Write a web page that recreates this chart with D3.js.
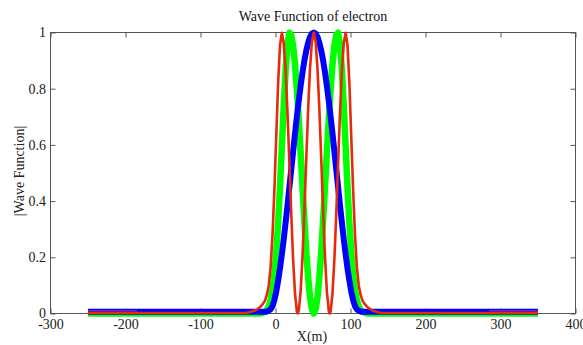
<!DOCTYPE html>
<html>
<head>
<meta charset="utf-8">
<script src="https://cdn.jsdelivr.net/npm/d3@7"></script>
<style>
  body { margin: 0; background: #fff; }
  svg text { font-family: "Liberation Serif", "Times New Roman", serif; }
</style>
</head>
<body>
<div id="chart"></div>
<script>
// Data: |wave function| for three states
const xs = [-250,
  -39, -36.5, -34, -31.5, -29, -26.5, -24, -21.5, -19, -16.5, -14, -11.5, -9, -6.5, -4, -1.5,
  1, 3.5, 6, 8.5, 11, 13.5, 16, 18.5, 21, 23.5, 26, 28.5, 29.7, 31, 33.5, 36, 38.5, 41, 43.5, 46, 48.5,
  51,
  53.5, 56, 58.5, 61, 63.5, 66, 68.5, 71, 72.3, 73.5, 76, 78.5, 81, 83.5, 86, 88.5, 91, 93.5, 96, 98.5,
  101, 103.5, 106, 108.5, 111, 113.5, 116, 118.5, 121, 123.5, 126, 128.5, 131, 133.5, 136, 138.5, 141,
  350];

const blueHalf = [.006, .006, .006, .006, .006, .006, .006, .006, .006, .006, .006, .007, .010, .015, .026, .048,
  .078, .117, .161, .211, .265, .324, .385, .449, .513, .577, .640, .700, .728, .757, .810, .858, .900, .935, .963, .984, .996];
const greenHalf = [0, 0, 0, 0, 0, 0, 0, 0, .001, .003, .006, .013, .025, .047, .083, .138,
  .217, .322, .451, .595, .740, .867, .959, .999, .990, .952, .887, .798, .748, .691, .573, .451, .332, .222, .130, .059, .015];
const redHalf = [.002, .003, .005, .007, .009, .012, .016, .021, .027, .035, .046, .066, .100, .165, .280, .440,
  .630, .820, .955, .999, .962, .862, .714, .537, .355, .192, .071, .007, 0, .010, .078, .202, .367, .549, .725, .871, .967];

// peak values at the centre
const bluePeak = 1, greenPeak = 0, redPeak = 1;
const blueBase = 0.006, greenBase = 0, redBase = 0.002;

const blueY = [blueBase, ...blueHalf, bluePeak, ...blueHalf.slice().reverse(), blueBase];
const greenY = [greenBase, ...greenHalf, greenPeak, ...greenHalf.slice().reverse(), greenBase];
const redY = [redBase, ...redHalf, redPeak, ...redHalf.slice().reverse(), redBase];

const purpleSegments = [[-250, -185], [285, 350]];
const purpleLevel = 0.010;

const xTicks = [-300, -200, -100, 0, 100, 200, 300, 400];
const yTicks = [0, 0.2, 0.4, 0.6, 0.8, 1];

const width = 583;
const height = 345;
const margin = { left: 50.5, right: 7.5, top: 32.5, bottom: 31.5 };

const x = d3.scaleLinear().domain([-300, 400]).range([margin.left, width - margin.right]);
const y = d3.scaleLinear().domain([0, 1]).range([height - margin.bottom, margin.top]);

const svg = d3.select("#chart")
  .append("svg")
  .attr("width", width)
  .attr("height", height);

svg.append("text")
  .attr("x", (x.range()[0] + x.range()[1]) / 2)
  .attr("y", 20.5)
  .attr("text-anchor", "middle")
  .attr("font-size", "14px")
  .attr("fill", "#111")
  .text("Wave Function of electron");

// axes box
svg.append("rect")
  .attr("x", x.range()[0])
  .attr("y", y.range()[1])
  .attr("width", x.range()[1] - x.range()[0])
  .attr("height", y.range()[0] - y.range()[1])
  .attr("fill", "none")
  .attr("stroke", "#555")
  .attr("stroke-width", 1);

const xAxis = svg.append("g")
  .attr("transform", `translate(0,${y(0)})`)
  .call(d3.axisBottom(x).tickValues(xTicks).tickSize(-5).tickSizeOuter(0).tickPadding(0).tickFormat(d => String(d)));
xAxis.selectAll("text").attr("y", 15).attr("dy", null);

const yAxis = svg.append("g")
  .attr("transform", `translate(${x(-300)},0)`)
  .call(d3.axisLeft(y).tickValues(yTicks).tickSize(-5).tickSizeOuter(0).tickPadding(4.5).tickFormat(d => String(d)));

svg.append("g")
  .attr("transform", `translate(0,${y(1)})`)
  .call(d3.axisTop(x).tickValues(xTicks).tickSize(-5).tickSizeOuter(0).tickFormat(""));
svg.append("g")
  .attr("transform", `translate(${x(400)},0)`)
  .call(d3.axisRight(y).tickValues(yTicks).tickSize(-5).tickSizeOuter(0).tickFormat(""));

svg.selectAll(".domain").remove();
svg.selectAll(".tick line").attr("stroke", "#555");
svg.selectAll(".tick text")
  .attr("font-family", "Liberation Serif, Times New Roman, serif")
  .attr("font-size", "14px")
  .attr("fill", "#222");

svg.append("text")
  .attr("x", (x.range()[0] + x.range()[1]) / 2 - 1)
  .attr("y", 341)
  .attr("text-anchor", "middle")
  .attr("font-size", "14px")
  .attr("fill", "#222")
  .text("X(m)");

svg.append("text")
  .attr("transform", `translate(24,${(y.range()[0] + y.range()[1]) / 2 - 2}) rotate(-90)`)
  .attr("text-anchor", "middle")
  .attr("font-size", "14px")
  .attr("fill", "#222")
  .text("|Wave Function|");

const line = d3.line()
  .x(d => x(d[0]))
  .y(d => y(d[1]));

const series = [
  { name: "green", values: greenY, color: "#00ff00", width: 6.5 },
  { name: "blue", values: blueY, color: "#0000ff", width: 6 },
  { name: "red", values: redY, color: "#e62a0c", width: 2.6 }
];

series.forEach(s => {
  svg.append("path")
    .datum(xs.map((v, i) => [v, s.values[i]]))
    .attr("d", line)
    .attr("fill", "none")
    .attr("stroke", s.color)
    .attr("stroke-width", s.width)
    .attr("stroke-linejoin", "round");
});

purpleSegments.forEach(seg => {
  svg.append("path")
    .datum(seg.map(v => [v, purpleLevel]))
    .attr("d", line)
    .attr("fill", "none")
    .attr("stroke", "#8a22a8")
    .attr("stroke-width", 1.6);
});
</script>
</body>
</html>
